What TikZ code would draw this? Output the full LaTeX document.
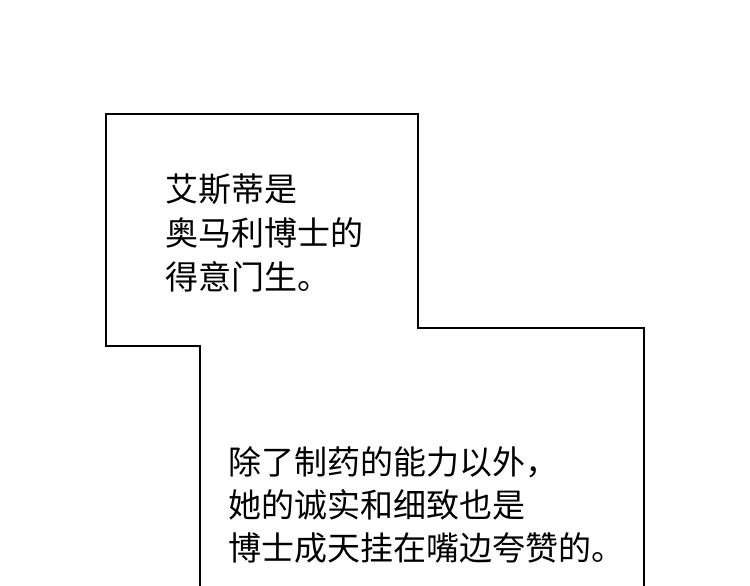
\documentclass[tikz,border=0pt]{standalone}
\usepackage{fontspec}
\newfontfamily\cjk{Noto Sans CJK SC}
\begin{document}
\begin{tikzpicture}[x=1pt,y=-1pt,
  txt/.style={anchor=west,inner sep=0pt,font=\cjk\fontsize{33}{40}\selectfont},
  outline/.style={draw=black,line width=2.6pt,line join=miter}]
\useasboundingbox[fill=white] (0,0) rectangle (750,586);
\coordinate (p1) at (106,114);
\coordinate (p2) at (418,114);
\coordinate (p3) at (418,328);
\coordinate (p4) at (644,328);
\coordinate (p5) at (644,590);
\coordinate (q1) at (106,346);
\coordinate (q2) at (200,346);
\coordinate (q3) at (200,590);
\draw[outline] (q3) -- (q2) -- (q1) -- (p1) -- (p2) -- (p3) -- (p4) -- (p5);
\node[txt] (a1) at (165,189) {艾斯蒂是};
\node[txt] (a2) at (165,233) {奥马利博士的};
\node[txt] (a3) at (165,277) {得意门生。};
\node[txt] (b1) at (228,462) {除了制药的能力以外，};
\node[txt] (b2) at (228,505) {她的诚实和细致也是};
\node[txt] (b3) at (228,548) {博士成天挂在嘴边夸赞的。};
\end{tikzpicture}
\end{document}
